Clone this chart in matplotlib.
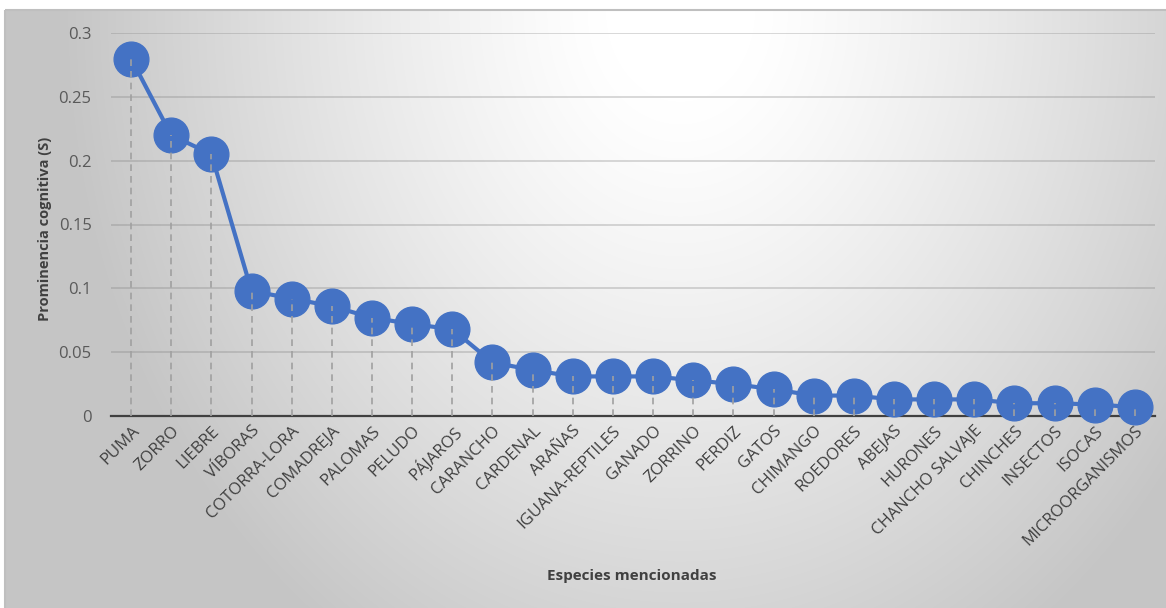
import numpy as np
import matplotlib.pyplot as plt
from matplotlib.patches import Rectangle

plt.rcParams['font.family'] = ['Open Sans', 'DejaVu Sans']

especies = ['PUMA', 'ZORRO', 'LIEBRE', 'VÍBORAS', 'COTORRA-LORA', 'COMADREJA',
            'PALOMAS', 'PELUDO', 'PÁJAROS', 'CARANCHO', 'CARDENAL', 'ARAÑAS',
            'IGUANA-REPTILES', 'GANADO', 'ZORRINO', 'PERDIZ', 'GATOS', 'CHIMANGO',
            'ROEDORES', 'ABEJAS', 'HURONES', 'CHANCHO SALVAJE', 'CHINCHES',
            'INSECTOS', 'ISOCAS', 'MICROORGANISMOS']
prominencia = [0.280, 0.220, 0.205, 0.098, 0.092, 0.086, 0.077, 0.072, 0.068,
               0.042, 0.036, 0.031, 0.031, 0.031, 0.028, 0.025, 0.021, 0.016,
               0.016, 0.013, 0.013, 0.013, 0.010, 0.010, 0.009, 0.007]
yticks = [0, 0.05, 0.1, 0.15, 0.2, 0.25, 0.3]
ytick_labels = ['0', '0.05', '0.1', '0.15', '0.2', '0.25', '0.3']

W, H = 1166, 608
fig = plt.figure(figsize=(W / 100, H / 100), dpi=100)

# gradient backdrop behind the whole chart
bg = fig.add_axes([0, 0, 1, 1], zorder=-10)
yy, xx = np.mgrid[0:H, 0:W]
r = np.sqrt(((xx - 680) / 620.0) ** 2 + ((yy - 10) / 760.0) ** 2)
r = np.clip((r - 0.12) / 0.88, 0, 1)
shade = 255 - 58 * r ** 1.2
img = np.dstack([shade, shade, shade]) / 255.0
img[:10, :] = 1.0
img[:, :5] = 1.0
bg.imshow(img, aspect='auto', extent=[0, W, H, 0], interpolation='bilinear')
bg.add_patch(Rectangle((5, 10), W, H, fill=False, edgecolor='#bfbfbf', lw=1.5))
bg.set_xlim(0, W)
bg.set_ylim(H, 0)
bg.axis('off')

ax = fig.add_axes([111 / W, (H - 416) / H, (1155 - 111) / W, (416 - 33) / H])
ax.patch.set_alpha(0)
x = np.arange(len(especies))

ax.plot(x, prominencia, color='#4472c4', lw=3, marker='o', markersize=25,
        zorder=3, clip_on=False)
ax.vlines(x, 0, prominencia, colors='#a0a0a0', linestyles=(0, (4, 3)),
          lw=1.2, zorder=4)

ax.set_xlim(-0.5, len(especies) - 0.5)
ax.set_ylim(0, 0.3)
ax.set_yticks(yticks)
ax.set_yticklabels(ytick_labels, fontsize=12, color='#595959')
ax.set_xticks(x)
ax.set_xticklabels(especies, rotation=45, ha='right', rotation_mode='anchor',
                   fontsize=12, color='#404040')
ax.tick_params(axis='both', length=0)
ax.tick_params(axis='y', pad=14)
ax.tick_params(axis='x', pad=5)
ax.grid(axis='y', color='#7f7f7f', alpha=0.35, lw=1.2)
ax.set_axisbelow(True)
for s in ['top', 'right', 'left']:
    ax.spines[s].set_visible(False)
ax.spines['bottom'].set_color('#404040')
ax.spines['bottom'].set_linewidth(1.6)
ax.spines['bottom'].set_zorder(2)

fig.text(45 / W, 1 - 229 / H, 'Prominencia cognitiva (S)', rotation=90,
         ha='center', va='center', fontsize=10.5, fontweight='bold', color='#404040')
fig.text(632 / W, 1 - 576 / H, 'Especies mencionadas', ha='center', va='center',
         fontsize=11, fontweight='bold', color='#404040')

fig.savefig('out.png', dpi=100)
